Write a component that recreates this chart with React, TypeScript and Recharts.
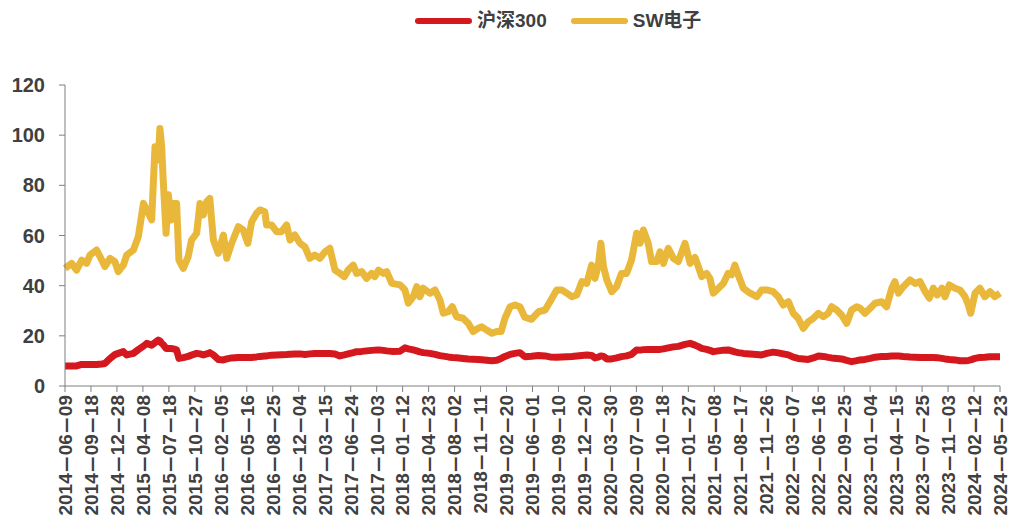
import React from 'react'
import { LineChart, Line, XAxis, YAxis } from 'recharts'

// 沪深300 与 SW电子 指数市盈率走势（2014-06 ~ 2024-05）
const dates = [
  '2014-06-09', '2014-07-05', '2014-07-24', '2014-08-13', '2014-09-01', '2014-09-14', '2014-10-10', '2014-10-30',
  '2014-11-11', '2014-12-01', '2014-12-20', '2015-01-02', '2015-01-22', '2015-02-04', '2015-03-02', '2015-03-21',
  '2015-04-10', '2015-04-23', '2015-05-12', '2015-05-25', '2015-06-07', '2015-06-13', '2015-06-20', '2015-06-26',
  '2015-07-07', '2015-07-16', '2015-07-26', '2015-08-04', '2015-08-17', '2015-08-26', '2015-09-12', '2015-10-01',
  '2015-10-14', '2015-11-03', '2015-11-16', '2015-11-29', '2015-12-12', '2015-12-24', '2016-01-07', '2016-01-26',
  '2016-02-15', '2016-02-28', '2016-03-18', '2016-04-13', '2016-05-02', '2016-05-20', '2016-06-04', '2016-06-23',
  '2016-07-06', '2016-07-25', '2016-08-01', '2016-08-20', '2016-09-09', '2016-09-28', '2016-10-18', '2016-10-31',
  '2016-11-19', '2016-12-09', '2016-12-28', '2017-01-16', '2017-02-05', '2017-02-24', '2017-03-16', '2017-04-04',
  '2017-04-24', '2017-05-13', '2017-05-30', '2017-06-14', '2017-07-04', '2017-07-17', '2017-08-06', '2017-08-25',
  '2017-09-13', '2017-09-26', '2017-10-10', '2017-10-29', '2017-11-11', '2017-12-01', '2018-01-02', '2018-01-21',
  '2018-02-03', '2018-02-22', '2018-03-08', '2018-03-20', '2018-04-02', '2018-04-28', '2018-05-18', '2018-06-06',
  '2018-06-19', '2018-07-08', '2018-07-24', '2018-08-10', '2018-09-04', '2018-09-24', '2018-10-13', '2018-11-02',
  '2018-11-16', '2018-12-05', '2018-12-25', '2019-01-13', '2019-01-30', '2019-02-14', '2019-03-06', '2019-03-25',
  '2019-04-13', '2019-05-02', '2019-05-28', '2019-06-24', '2019-07-20', '2019-08-08', '2019-09-03', '2019-09-23',
  '2019-10-12', '2019-11-01', '2019-11-20', '2019-12-10', '2019-12-29', '2020-01-17', '2020-01-30', '2020-02-12',
  '2020-02-22', '2020-03-03', '2020-03-16', '2020-04-04', '2020-04-23', '2020-05-12', '2020-06-01', '2020-06-20',
  '2020-07-10', '2020-07-23', '2020-08-05', '2020-08-24', '2020-09-06', '2020-09-26', '2020-10-09', '2020-10-22',
  '2020-11-10', '2020-11-30', '2020-12-19', '2021-01-14', '2021-02-03', '2021-02-22', '2021-03-07', '2021-03-20',
  '2021-04-08', '2021-04-21', '2021-05-04', '2021-05-24', '2021-06-12', '2021-07-01', '2021-07-14', '2021-07-27',
  '2021-08-09', '2021-08-29', '2021-09-24', '2021-10-20', '2021-11-08', '2021-11-28', '2021-12-23', '2022-01-12',
  '2022-01-31', '2022-02-20', '2022-03-11', '2022-03-30', '2022-04-19', '2022-05-08', '2022-05-28', '2022-06-17',
  '2022-07-06', '2022-07-25', '2022-08-07', '2022-08-27', '2022-09-15', '2022-10-05', '2022-10-24', '2022-11-13',
  '2022-11-26', '2022-12-15', '2023-01-04', '2023-01-23', '2023-02-18', '2023-03-09', '2023-03-29', '2023-04-10',
  '2023-04-24', '2023-05-13', '2023-06-08', '2023-06-28', '2023-07-17', '2023-08-06', '2023-08-22', '2023-09-07',
  '2023-09-22', '2023-10-10', '2023-10-22', '2023-11-08', '2023-11-30', '2023-12-19', '2024-01-08', '2024-01-21',
  '2024-01-30', '2024-02-16', '2024-03-06', '2024-03-25', '2024-04-14', '2024-05-03', '2024-05-23',
]

const hs300 = [
  8.0, 8.0, 8.0, 8.6, 8.6, 8.6, 8.6, 8.8,
  9.0, 11.0, 12.5, 13.0, 13.7, 12.4, 13.0, 14.5,
  15.9, 17.0, 16.3, 17.3, 18.3, 18.0, 17.0, 16.5,
  15.0, 15.0, 15.0, 14.8, 14.4, 11.0, 11.3, 11.8,
  12.3, 13.0, 12.8, 12.4, 12.8, 13.3, 12.4, 10.6,
  10.4, 10.8, 11.2, 11.4, 11.4, 11.4, 11.4, 11.6,
  11.8, 12.0, 12.0, 12.3, 12.4, 12.5, 12.6, 12.7,
  12.8, 12.8, 12.6, 12.8, 13.0, 13.0, 13.0, 13.0,
  12.8, 12.0, 12.4, 12.8, 13.3, 13.7, 13.8, 14.0,
  14.2, 14.3, 14.4, 14.2, 14.0, 13.8, 13.9, 15.2,
  14.8, 14.4, 14.0, 13.6, 13.3, 13.0, 12.6, 12.1,
  11.9, 11.6, 11.4, 11.3, 11.0, 10.8, 10.7, 10.6,
  10.5, 10.3, 10.1, 10.3, 11.0, 11.8, 12.6, 13.0,
  13.3, 11.7, 11.9, 12.2, 12.0, 11.6, 11.5, 11.6,
  11.7, 11.8, 12.0, 12.2, 12.4, 12.2, 11.2, 11.5,
  12.0, 11.8, 10.8, 10.8, 11.2, 11.7, 12.0, 12.6,
  14.4, 14.3, 14.5, 14.6, 14.6, 14.6, 14.6, 14.8,
  15.2, 15.6, 15.8, 16.6, 17.0, 16.3, 15.7, 15.0,
  14.6, 14.2, 13.7, 14.0, 14.3, 14.4, 14.0, 13.6,
  13.3, 13.0, 12.8, 12.6, 12.4, 13.0, 13.5, 13.2,
  12.8, 12.4, 11.5, 11.0, 10.8, 10.6, 11.2, 12.0,
  11.8, 11.4, 11.2, 11.0, 10.8, 10.2, 9.7, 10.1,
  10.4, 10.6, 11.0, 11.5, 11.8, 11.8, 12.0, 12.0,
  12.0, 11.8, 11.6, 11.5, 11.4, 11.4, 11.4, 11.4,
  11.3, 11.0, 10.8, 10.6, 10.4, 10.1, 10.1, 10.2,
  10.4, 11.0, 11.4, 11.5, 11.7, 11.7, 11.7,
]

const swElec = [
  46.9, 48.9, 46.2, 50.2, 48.9, 52.2, 54.2, 50.2,
  47.6, 50.9, 49.6, 45.6, 48.2, 52.2, 54.2, 59.5,
  72.8, 70.2, 66.2, 95.4, 90.1, 102.7, 95.4, 82.1,
  60.9, 76.2, 66.2, 72.8, 72.8, 50.2, 46.9, 51.6,
  58.2, 60.9, 72.8, 68.2, 73.5, 74.8, 58.2, 52.9,
  60.2, 50.9, 56.9, 63.5, 62.2, 56.9, 65.5, 68.9,
  70.2, 69.5, 64.2, 64.2, 61.5, 61.5, 64.2, 58.2,
  60.2, 56.9, 55.5, 50.9, 52.2, 50.9, 53.5, 54.9,
  46.2, 44.9, 43.6, 46.2, 48.2, 44.9, 45.6, 42.9,
  44.9, 43.6, 46.2, 44.9, 45.6, 40.9, 40.3, 38.3,
  33.0, 35.6, 39.6, 35.6, 39.0, 37.0, 38.3, 34.3,
  29.0, 29.6, 31.6, 27.6, 27.0, 25.0, 21.7, 23.0,
  23.6, 22.3, 21.0, 21.7, 21.7, 27.0, 31.6, 32.3,
  31.6, 27.4, 26.6, 29.6, 30.3, 33.6, 38.3, 38.3,
  37.0, 35.6, 36.3, 41.6, 40.9, 48.2, 42.9, 48.2,
  56.9, 47.6, 42.3, 37.6, 39.6, 44.9, 44.9, 50.2,
  60.9, 56.9, 62.2, 56.9, 49.6, 49.6, 53.5, 48.9,
  54.9, 50.9, 49.6, 56.9, 48.9, 51.2, 47.6, 43.6,
  44.9, 42.9, 37.0, 39.0, 40.9, 44.9, 44.3, 48.2,
  44.3, 39.0, 37.0, 35.6, 38.3, 38.3, 37.6, 35.6,
  32.3, 33.6, 29.0, 27.0, 23.0, 25.6, 27.0, 29.0,
  27.6, 29.0, 31.6, 30.3, 28.3, 25.0, 30.3, 31.6,
  31.0, 29.0, 31.0, 33.0, 33.6, 31.6, 39.0, 41.6,
  37.0, 39.6, 42.3, 40.9, 41.6, 37.6, 35.0, 39.0,
  36.3, 39.0, 35.6, 40.3, 39.0, 38.3, 35.6, 32.3,
  29.0, 37.0, 39.0, 35.6, 37.6, 35.6, 37.0,
]

const tickLabels = [
  '2014-06-09', '2014-09-18', '2014-12-28', '2015-04-08', '2015-07-18', '2015-10-27',
  '2016-02-05', '2016-05-16', '2016-08-25', '2016-12-04', '2017-03-15', '2017-06-24',
  '2017-10-03', '2018-01-12', '2018-04-23', '2018-08-02', '2018-11-11', '2019-02-20',
  '2019-06-01', '2019-09-10', '2019-12-20', '2020-03-30', '2020-07-09', '2020-10-18',
  '2021-01-27', '2021-05-08', '2021-08-17', '2021-11-26', '2022-03-07', '2022-06-16',
  '2022-09-25', '2023-01-04', '2023-04-15', '2023-07-25', '2023-11-03', '2024-02-12',
  '2024-05-23',
]

const yTicks = [0, 20, 40, 60, 80, 100, 120]

const colors = {
  hs300: '#D5171E',
  sw: '#E9B83B',
  axis: '#7F7F7F',
  text: '#404040',
}

const latin = '"Liberation Sans", Arial, sans-serif'
const mixed = '"Liberation Sans", "Noto Sans CJK SC", sans-serif'

const data = dates.map((d, i) => ({ t: Date.parse(d), hs300: hs300[i], sw: swElec[i] }))
const tickDates = tickLabels.map((d) => Date.parse(d))

const fmtDate = (ms: number) => new Date(ms).toISOString().slice(0, 10)

// 竖排日期刻度，连字符拉长
const DateTick = (props: any) => {
  const { x, y, payload } = props
  const [yy, mm, dd] = fmtDate(payload.value).split('-')
  return (
    <g transform={`translate(${x},${y})`}>
      <text
        transform="rotate(-90)"
        x={0}
        y={0}
        dy="0.36em"
        textAnchor="end"
        fill={colors.text}
        fontSize={19}
        fontWeight="bold"
        fontFamily={latin}
      >
        {yy}
        <tspan textLength={18} lengthAdjust="spacingAndGlyphs">-</tspan>
        {mm}
        <tspan textLength={18} lengthAdjust="spacingAndGlyphs">-</tspan>
        {dd}
      </text>
    </g>
  )
}

const LegendItem = ({ color, label, gap }: { color: string; label: string; gap: number }) => (
  <div style={{ display: 'flex', alignItems: 'center', marginRight: gap }}>
    <div style={{ width: 57, height: 6, borderRadius: 3, background: color, marginRight: 5 }} />
    <span>{label}</span>
  </div>
)

export default function App() {
  return (
    <div style={{ position: 'absolute', left: 0, top: 0, width: 1015, height: 525, background: '#fff' }}>
      <div
        style={{
          position: 'absolute',
          left: 415,
          top: 10,
          display: 'flex',
          alignItems: 'center',
          fontFamily: mixed,
          fontWeight: 'bold',
          fontSize: 19,
          lineHeight: '22px',
          color: colors.text,
        }}
      >
        <LegendItem color={colors.hs300} label="沪深300" gap={24} />
        <LegendItem color={colors.sw} label="SW电子" gap={0} />
      </div>
      <LineChart width={1015} height={525} data={data} margin={{ top: 85, right: 15, bottom: 9, left: 0 }}>
        <XAxis
          type="number"
          dataKey="t"
          domain={[tickDates[0], tickDates[tickDates.length - 1]]}
          ticks={tickDates}
          interval={0}
          tick={<DateTick />}
          tickSize={6}
          tickMargin={3}
          height={130}
          axisLine={{ stroke: colors.axis }}
          tickLine={{ stroke: colors.axis }}
        />
        <YAxis
          domain={[0, 120]}
          ticks={yTicks}
          width={65}
          tickSize={6}
          tickMargin={14}
          axisLine={{ stroke: colors.axis }}
          tickLine={{ stroke: colors.axis }}
          tick={{ fill: colors.text, fontSize: 20, fontWeight: 'bold', fontFamily: latin }}
        />
        <Line
          type="linear"
          dataKey="hs300"
          name="沪深300"
          stroke={colors.hs300}
          strokeWidth={7}
          strokeLinejoin="round"
          dot={false}
          isAnimationActive={false}
        />
        <Line
          type="linear"
          dataKey="sw"
          name="SW电子"
          stroke={colors.sw}
          strokeWidth={7}
          strokeLinejoin="round"
          dot={false}
          isAnimationActive={false}
        />
      </LineChart>
    </div>
  )
}
